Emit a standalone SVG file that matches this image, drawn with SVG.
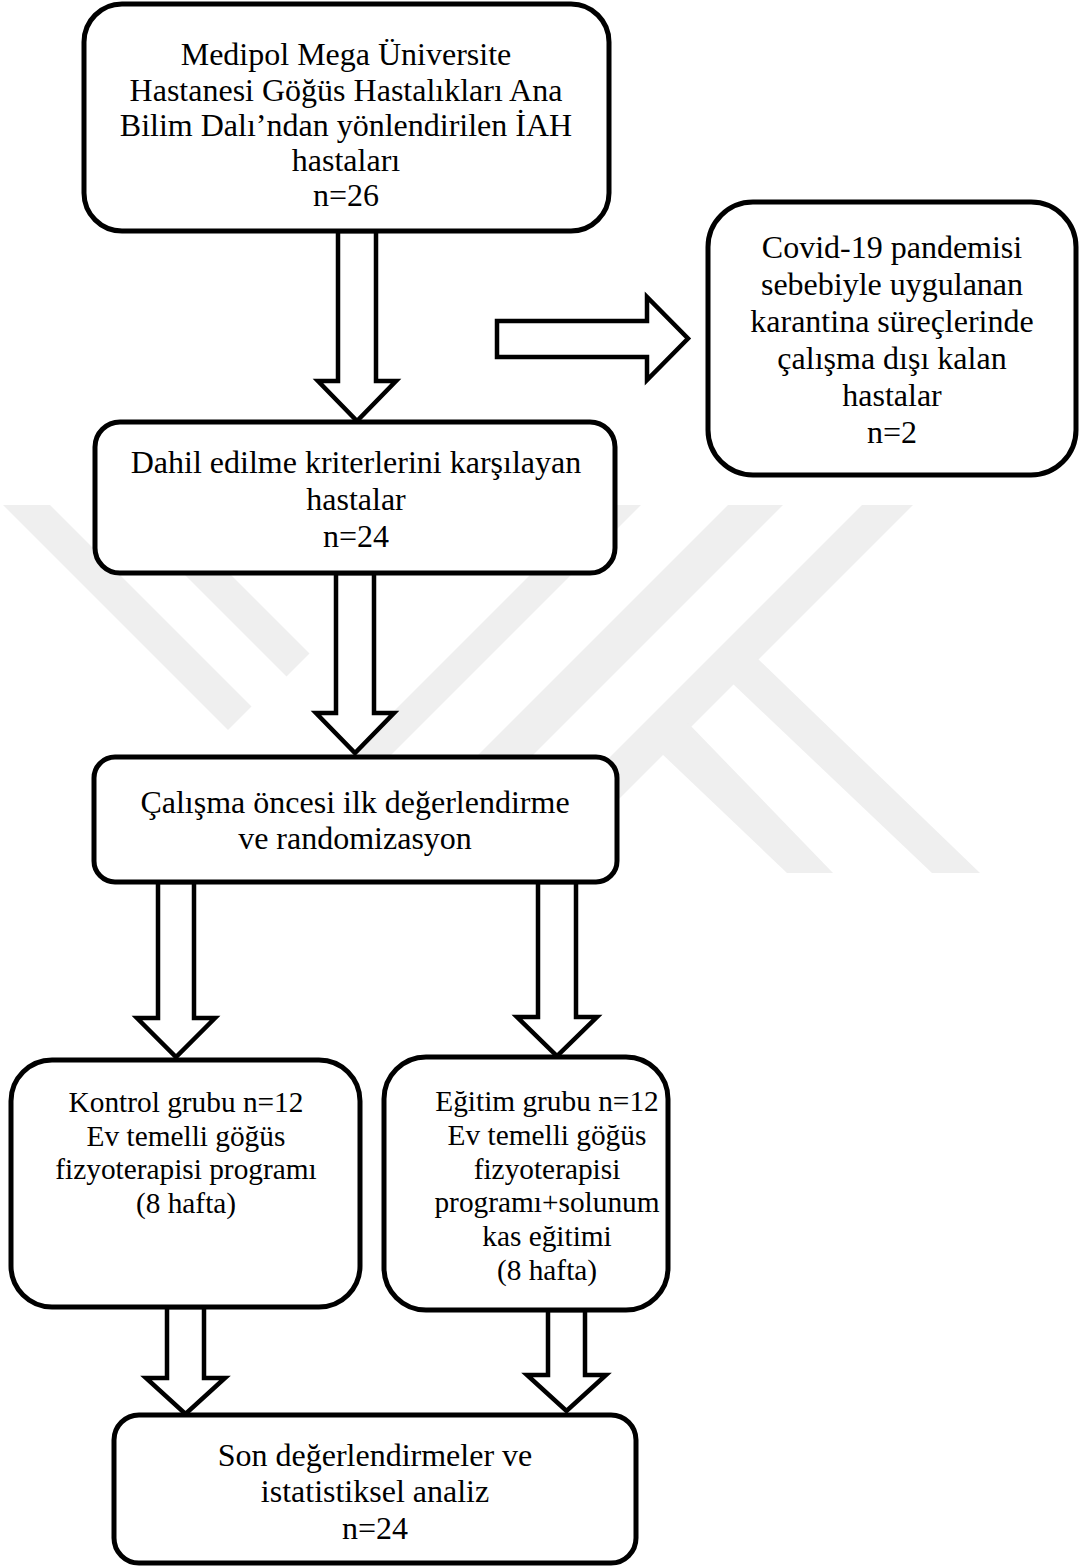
<svg xmlns="http://www.w3.org/2000/svg" width="1080" height="1566" viewBox="0 0 1080 1566">
<style>
.bg{fill:#ffffff}
.wm{fill:#efefef}
.box{fill:#ffffff;stroke:#000000;stroke-width:5}
.arr{fill:#ffffff;stroke:#000000;stroke-width:4.5;stroke-linejoin:miter;stroke-miterlimit:10}
.t{font-family:"Liberation Serif","Times New Roman",serif;font-size:32px;text-anchor:middle;fill:#000000}
.s{font-size:29.33px}
</style>
<rect class="bg" x="0" y="0" width="1080" height="1566"/>
<g id="watermark">
<polygon class="wm" points="3,505 50,505 251.5,706.5 228,730"/>
<polygon class="wm" points="115,505 161,505 309.5,653.5 286.5,676.5"/>
<polygon class="wm" points="600,505 641,505 273,873 232,873"/>
<polygon class="wm" points="728,505 783,505 415,873 360,873"/>
<polygon class="wm" points="862,505 913,505 545,873 494,873"/>
<polygon class="wm" points="660,752 688,723 833,873 787,873"/>
<polygon class="wm" points="732,683 757,658 980,873 932,873"/>
</g>
<g id="connectors">
<polygon class="arr" points="338,231 376,231 376,381 396,381 357,421 318,381 338,381"/>
<polygon class="arr" points="497,321 647,321 647,297 688,338.5 647,380 647,357 497,357"/>
<polygon class="arr" points="336,573 374,573 374,713 394,713 355,753 316,713 336,713"/>
<polygon class="arr" points="158,882 194,882 194,1018 215,1018 176,1057 137,1018 158,1018"/>
<polygon class="arr" points="538,882 576,882 576,1017 597,1017 557,1056 517,1017 538,1017"/>
<polygon class="arr" points="167,1307 204,1307 204,1378 225,1378 185.5,1414 146,1378 167,1378"/>
<polygon class="arr" points="548,1310 585,1310 585,1375 606,1375 566.5,1411 527,1375 548,1375"/>
</g>
<g id="n1">
<rect class="box" x="84" y="4" width="525" height="227" rx="38"/>
<text class="t" x="346" y="65">Medipol Mega Üniversite</text>
<text class="t" x="346" y="100.5">Hastanesi Göğüs Hastalıkları Ana</text>
<text class="t" x="346" y="136">Bilim Dalı’ndan yönlendirilen İAH</text>
<text class="t" x="346" y="171">hastaları</text>
<text class="t" x="346" y="206">n=26</text>
</g>
<g id="n2">
<rect class="box" x="708" y="202" width="368" height="273" rx="45"/>
<text class="t" x="892" y="258">Covid-19 pandemisi</text>
<text class="t" x="892" y="295">sebebiyle uygulanan</text>
<text class="t" x="892" y="332">karantina süreçlerinde</text>
<text class="t" x="892" y="369">çalışma dışı kalan</text>
<text class="t" x="892" y="406">hastalar</text>
<text class="t" x="892" y="443">n=2</text>
</g>
<g id="n3">
<rect class="box" x="95" y="422" width="520" height="151" rx="25"/>
<text class="t" x="356" y="473">Dahil edilme kriterlerini karşılayan</text>
<text class="t" x="356" y="510">hastalar</text>
<text class="t" x="356" y="547">n=24</text>
</g>
<g id="n4">
<rect class="box" x="94" y="757" width="523" height="125" rx="21"/>
<text class="t" x="355" y="813">Çalışma öncesi ilk değerlendirme</text>
<text class="t" x="355" y="849">ve randomizasyon</text>
</g>
<g id="n5">
<rect class="box" x="11" y="1060" width="349" height="247" rx="41"/>
<text class="t s" x="186" y="1112">Kontrol grubu n=12</text>
<text class="t s" x="186" y="1145.5">Ev temelli göğüs</text>
<text class="t s" x="186" y="1179">fizyoterapisi programı</text>
<text class="t s" x="186" y="1212.5">(8 hafta)</text>
</g>
<g id="n6">
<rect class="box" x="384" y="1057" width="284" height="253" rx="42"/>
<text class="t s" x="547" y="1111">Eğitim grubu n=12</text>
<text class="t s" x="547" y="1144.8">Ev temelli göğüs</text>
<text class="t s" x="547" y="1178.6">fizyoterapisi</text>
<text class="t s" x="547" y="1212.4">programı+solunum</text>
<text class="t s" x="547" y="1246.2">kas eğitimi</text>
<text class="t s" x="547" y="1280">(8 hafta)</text>
</g>
<g id="n7">
<rect class="box" x="114" y="1415" width="522" height="148" rx="25"/>
<text class="t" x="375" y="1466">Son değerlendirmeler ve</text>
<text class="t" x="375" y="1502">istatistiksel analiz</text>
<text class="t" x="375" y="1539">n=24</text>
</g>
</svg>
